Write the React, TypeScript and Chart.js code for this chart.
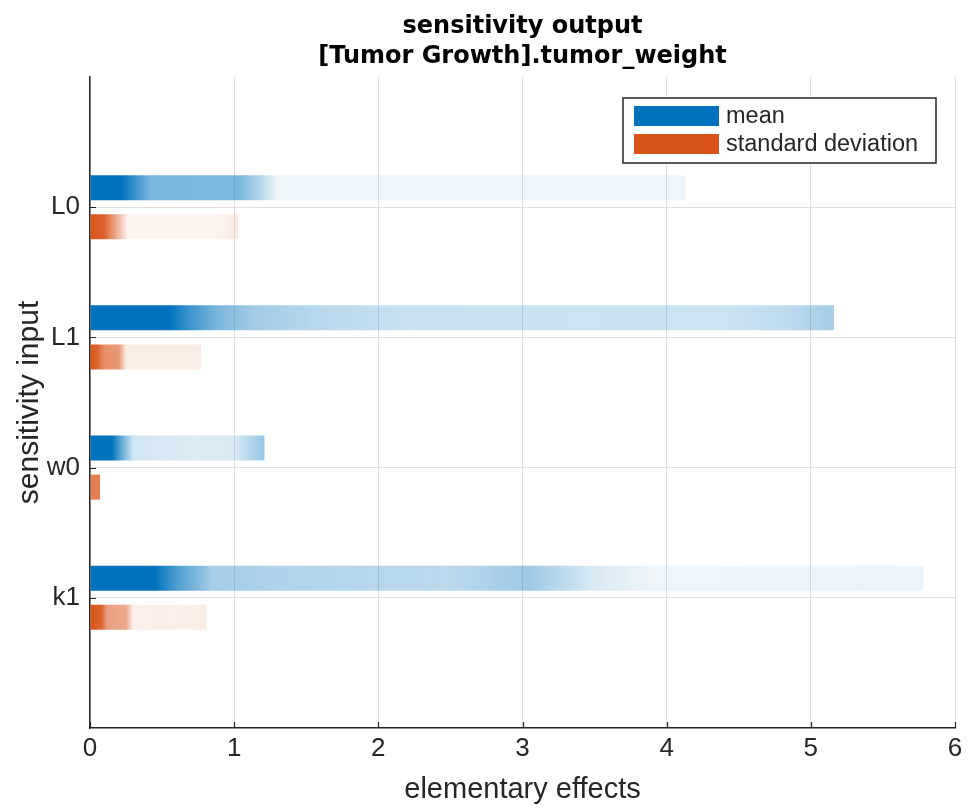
import React, { useEffect, useRef } from 'react';
import { Chart, registerables } from 'chart.js';

Chart.register(...registerables);

// ---------- data ----------
const categories = ['L0', 'L1', 'w0', 'k1'];
const meanValues = [4.13, 5.16, 1.21, 5.78];
const stdValues = [1.03, 0.77, 0.07, 0.81];
const xTickValues = [0, 1, 2, 3, 4, 5, 6];
const yTickValues = [1, 2, 3, 4];

// shading (opacity) profile along each bar: positions in elementary-effect units
const meanShadeAt = [
  [0, 0.22, 0.3, 0.42, 1.05, 1.2, 1.3, 4.13],
  [0, 0.55, 0.7, 0.9, 1.15, 1.6, 2.2, 4.4, 4.8, 5.16],
  [0, 0.15, 0.22, 0.3, 0.7, 1.0, 1.21],
  [0, 0.45, 0.6, 0.85, 1.5, 2.5, 3.05, 3.5, 3.9, 5.78],
];
const meanShadeAlpha = [
  [1, 1, 0.8, 0.52, 0.5, 0.25, 0.06, 0.06],
  [1, 1, 0.75, 0.5, 0.36, 0.28, 0.21, 0.2, 0.25, 0.35],
  [1, 1, 0.6, 0.18, 0.14, 0.15, 0.42],
  [1, 1, 0.7, 0.35, 0.3, 0.27, 0.38, 0.15, 0.07, 0.08],
];
const stdShadeAt = [
  [0, 0.1, 0.2, 0.26, 0.9, 1.03],
  [0, 0.05, 0.1, 0.2, 0.25, 0.77],
  [0, 0.07],
  [0, 0.08, 0.12, 0.25, 0.3, 0.81],
];
const stdShadeAlpha = [
  [1, 0.9, 0.4, 0.07, 0.07, 0.12],
  [1, 0.9, 0.65, 0.6, 0.11, 0.11],
  [0.75, 0.75],
  [1, 0.9, 0.55, 0.5, 0.09, 0.11],
];

const meanRGB = [0, 114, 189];
const stdRGB = [217, 83, 25];
const seriesLabels = ['mean', 'standard deviation'];
const titleLines = ['sensitivity output', '[Tumor Growth].tumor_weight'];

const AXIS_COLOR = '#262626';
const GRID_COLOR = '#dfdfdf';
const FONT = "'Liberation Sans', Arial, Helvetica, sans-serif";

function rgba(c: number[], a: number) {
  return `rgba(${c[0]},${c[1]},${c[2]},${a})`;
}

function shadedFill(rgb: number[], values: number[], at: number[][], alpha: number[][]) {
  return (ctx: any) => {
    const chart = ctx.chart;
    const xs = chart.scales && chart.scales.x;
    const i = ctx.dataIndex;
    if (!xs || !chart.chartArea || i == null || at[i] == null) return rgba(rgb, 1);
    const end = values[i];
    const x0 = xs.getPixelForValue(0);
    const x1 = xs.getPixelForValue(end);
    if (!isFinite(x0) || !isFinite(x1) || x1 <= x0) return rgba(rgb, 1);
    const g = chart.ctx.createLinearGradient(x0, 0, x1, 0);
    at[i].forEach((p: number, k: number) => {
      g.addColorStop(Math.min(1, Math.max(0, p / end)), rgba(rgb, alpha[i][k]));
    });
    return g;
  };
}

const titlePlugin = {
  id: 'mTitle',
  afterDraw(chart: any) {
    const { ctx, chartArea } = chart;
    const cx = (chartArea.left + chartArea.right) / 2;
    ctx.save();
    ctx.fillStyle = '#000';
    ctx.font = "bold 24px 'DejaVu Sans', sans-serif";
    ctx.textAlign = 'center';
    ctx.textBaseline = 'alphabetic';
    ctx.fillText(titleLines[0], cx, 33);
    ctx.fillText(titleLines[1], cx, 63);
    ctx.restore();
  },
};

const innerTicksPlugin = {
  id: 'innerTicks',
  afterDatasetsDraw(chart: any) {
    const { ctx, chartArea, scales } = chart;
    ctx.save();
    ctx.strokeStyle = AXIS_COLOR;
    ctx.lineWidth = 1.2;
    ctx.beginPath();
    xTickValues.forEach((v) => {
      const px = Math.round(scales.x.getPixelForValue(v)) + 0.5;
      ctx.moveTo(px, chartArea.bottom);
      ctx.lineTo(px, chartArea.bottom - 6);
    });
    yTickValues.forEach((v) => {
      const py = Math.round(scales.y.getPixelForValue(v)) + 0.5;
      ctx.moveTo(chartArea.left, py);
      ctx.lineTo(chartArea.left + 6, py);
    });
    ctx.stroke();
    ctx.restore();
  },
};

const legendPlugin = {
  id: 'boxLegend',
  afterDraw(chart: any) {
    const { ctx, chartArea } = chart;
    const w = 313;
    const h = 65;
    const right = chartArea.right - 19;
    const top = chartArea.top + 21;
    const left = right - w;
    ctx.save();
    ctx.fillStyle = '#ffffff';
    ctx.fillRect(left, top, w, h);
    ctx.strokeStyle = AXIS_COLOR;
    ctx.lineWidth = 1.5;
    ctx.strokeRect(left, top, w, h);
    const colors = [rgba(meanRGB, 1), rgba(stdRGB, 1)];
    seriesLabels.forEach((label, i) => {
      const cy = top + 18 + i * 28;
      ctx.fillStyle = colors[i];
      ctx.fillRect(left + 11, cy - 10, 85, 20);
      ctx.fillStyle = AXIS_COLOR;
      ctx.font = `23.5px ${FONT}`;
      ctx.textAlign = 'left';
      ctx.textBaseline = 'middle';
      ctx.fillText(label, left + 103, cy + 1);
    });
    ctx.restore();
  },
};

export default function App() {
  const ref = useRef<HTMLCanvasElement>(null);

  useEffect(() => {
    document.body.style.margin = '0';
    const canvas = ref.current;
    if (!canvas) return;
    const chart = new Chart(canvas, {
      type: 'bar',
      data: {
        datasets: [
          {
            label: seriesLabels[0],
            data: categories.map((_, i) => ({ x: meanValues[i], y: i + 1 })),
            backgroundColor: shadedFill(meanRGB, meanValues, meanShadeAt, meanShadeAlpha),
            borderWidth: 0,
            categoryPercentage: 0.6,
            barPercentage: 0.64,
          },
          {
            label: seriesLabels[1],
            data: categories.map((_, i) => ({ x: stdValues[i], y: i + 1 })),
            backgroundColor: shadedFill(stdRGB, stdValues, stdShadeAt, stdShadeAlpha),
            borderWidth: 0,
            categoryPercentage: 0.6,
            barPercentage: 0.64,
          },
        ] as any,
      },
      options: {
        indexAxis: 'y',
        responsive: false,
        animation: false,
        devicePixelRatio: 1,
        layout: { padding: { top: 77, right: 14, left: 0, bottom: 0 } },
        plugins: {
          legend: { display: false },
          title: { display: false },
          tooltip: { enabled: false },
        },
        scales: {
          x: {
            type: 'linear',
            position: 'bottom',
            min: 0,
            max: 6,
            offset: false,
            afterBuildTicks: (s: any) => {
              s.ticks = xTickValues.map((v) => ({ value: v }));
            },
            afterFit: (s: any) => {
              s.height = 80;
            },
            ticks: {
              color: AXIS_COLOR,
              font: { family: FONT, size: 26 },
              padding: 5,
              maxRotation: 0,
            },
            grid: { color: GRID_COLOR, lineWidth: 1, drawTicks: false, offset: false },
            border: { display: true, color: AXIS_COLOR, width: 1.5 },
            title: {
              display: true,
              text: 'elementary effects',
              color: AXIS_COLOR,
              font: { family: FONT, size: 29 },
              padding: { top: 0, bottom: 1 },
            },
          },
          y: {
            type: 'linear',
            position: 'left',
            min: 0,
            max: 5,
            reverse: true,
            offset: false,
            afterBuildTicks: (s: any) => {
              s.ticks = yTickValues.map((v) => ({ value: v }));
            },
            afterFit: (s: any) => {
              s.width = 90;
            },
            ticks: {
              color: AXIS_COLOR,
              font: { family: FONT, size: 26 },
              padding: 10,
              autoSkip: false,
              callback: (v: any) => categories[Number(v) - 1] ?? '',
            },
            grid: { color: GRID_COLOR, lineWidth: 1, drawTicks: false, offset: false },
            border: { display: true, color: AXIS_COLOR, width: 1.5 },
            title: {
              display: true,
              text: 'sensitivity input',
              color: AXIS_COLOR,
              font: { family: FONT, size: 30 },
              padding: { top: 12, bottom: 0 },
            },
          },
        },
      } as any,
      plugins: [titlePlugin, innerTicksPlugin, legendPlugin],
    });
    return () => chart.destroy();
  }, []);

  return (
    <div style={{ width: 969, height: 808 }}>
      <canvas ref={ref} width={969} height={808} style={{ display: 'block' }} />
    </div>
  );
}
